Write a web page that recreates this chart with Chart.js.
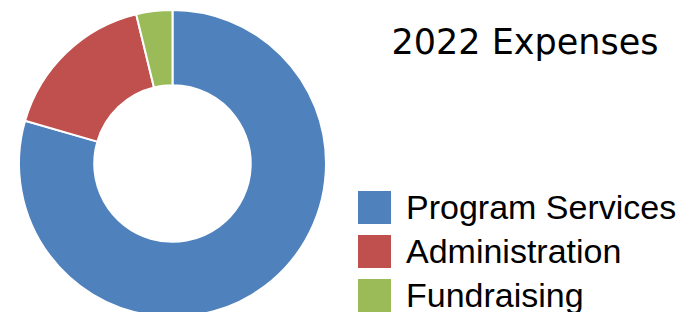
<!DOCTYPE html>
<html>
<head>
<meta charset="utf-8">
<script src="https://cdn.jsdelivr.net/npm/chart.js@4"></script>
<style>
  html, body { margin: 0; padding: 0; background: #fff; }
  #wrap { position: relative; width: 695px; height: 312px; overflow: hidden; }
  #chartBox { position: absolute; left: 0; top: 0; width: 345px; height: 327px; }
  #title {
    position: absolute; left: 360px; width: 330px; top: 22px;
    text-align: center; font: 35px "DejaVu Sans", sans-serif; line-height: 40px; color: #000;
  }
  #legend { position: absolute; left: 358px; top: 188px; margin: 0; padding: 0; list-style: none; }
  #legend li {
    height: 44px; line-height: 44px; white-space: nowrap;
    font: 34px "Liberation Sans", Arial, sans-serif; color: #000;
  }
  #legend span.box { display: inline-block; width: 33px; height: 33px; vertical-align: top; margin-top: 3px; margin-right: 15px; }
</style>
</head>
<body>
<div id="wrap">
  <div id="chartBox"><canvas id="expensesChart"></canvas></div>
  <div id="title">2022 Expenses</div>
  <ul id="legend"></ul>
</div>
<script>
// Chart data
const categories = ['Program Services', 'Administration', 'Fundraising'];
const expenseShares = [79.5, 16.7, 3.8];
const sliceColors = ['#4F81BD', '#C0504D', '#9BBB59'];

const ctx = document.getElementById('expensesChart').getContext('2d');
const expensesChart = new Chart(ctx, {
    type: 'doughnut',
    data: {
        labels: categories,
        datasets: [{
            data: expenseShares,
            backgroundColor: sliceColors,
            borderColor: '#ffffff',
            borderWidth: 2
        }]
    },
    options: {
        responsive: true,
        maintainAspectRatio: false,
        animation: false,
        cutout: '51%',
        layout: {
            padding: { left: 18, right: 18, top: 9, bottom: 9 }
        },
        plugins: {
            legend: { display: false },
            title: { display: false },
            tooltip: { enabled: false }
        }
    }
});

// Build legend from chart data
const legendEl = document.getElementById('legend');
expensesChart.data.labels.forEach((label, i) => {
    const li = document.createElement('li');
    li.innerHTML = `<span class="box" style="background:${expensesChart.data.datasets[0].backgroundColor[i]}"></span>${label}`;
    legendEl.appendChild(li);
});
</script>
</body>
</html>
